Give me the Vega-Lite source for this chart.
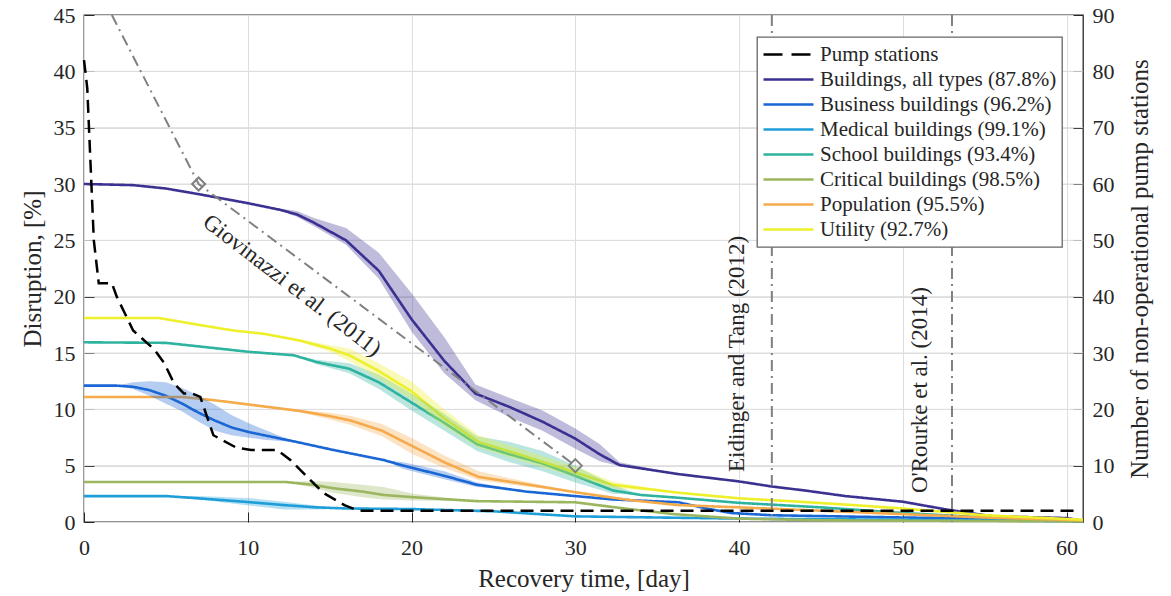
{
  "$schema": "https://vega.github.io/schema/vega-lite/v6.json",
  "width": 999,
  "height": 507,
  "autosize": "none",
  "padding": {"left": 84, "top": 15, "right": 88, "bottom": 74},
  "background": "white",
  "config": {
    "view": {"stroke": "#262626", "strokeWidth": 1.3},
    "font": "Liberation Serif",
    "axis": {
      "labelFont": "Liberation Serif", "titleFont": "Liberation Serif",
      "labelFontSize": 22, "titleFontSize": 25, "titleFontWeight": "normal",
      "labelColor": "#262626", "titleColor": "#262626",
      "tickColor": "#262626", "tickWidth": 1, "tickSize": -10,
      "domain": false, "gridColor": "#dedede", "gridWidth": 1, "labelFlush": false
    },
    "legend": {
      "symbolType": "stroke", "symbolSize": 2500, "symbolStrokeWidth": 2.5,
      "clipHeight": 25, "labelFont": "Liberation Serif", "labelFontSize": 21,
      "labelColor": "#262626", "labelOffset": 5, "padding": 5,
      "strokeColor": "#666666", "strokeWidth": 1.3, "fillColor": "white",
      "rowPadding": 0, "labelLimit": 400
    }
  },
  "datasets": {
    "hgrid": [{"g": 5}, {"g": 10}, {"g": 15}, {"g": 20}, {"g": 25}, {"g": 30}, {"g": 35}, {"g": 40}],
    "curves": [
      {"s": "Buildings, all types (87.8%)", "d": 0, "v": 30, "lo": 30, "hi": 30},
      {"s": "Buildings, all types (87.8%)", "d": 3, "v": 29.9, "lo": 29.9, "hi": 29.9},
      {"s": "Buildings, all types (87.8%)", "d": 5, "v": 29.6, "lo": 29.6, "hi": 29.6},
      {"s": "Buildings, all types (87.8%)", "d": 7, "v": 29.1, "lo": 29.1, "hi": 29.1},
      {"s": "Buildings, all types (87.8%)", "d": 10, "v": 28.3, "lo": 28.3, "hi": 28.3},
      {"s": "Buildings, all types (87.8%)", "d": 12, "v": 27.7, "lo": 27.6, "hi": 27.8},
      {"s": "Buildings, all types (87.8%)", "d": 13, "v": 27.3, "lo": 27.1, "hi": 27.6},
      {"s": "Buildings, all types (87.8%)", "d": 14, "v": 26.6, "lo": 26.3, "hi": 27.0},
      {"s": "Buildings, all types (87.8%)", "d": 16, "v": 25.0, "lo": 24.6, "hi": 26.1},
      {"s": "Buildings, all types (87.8%)", "d": 18, "v": 22.3, "lo": 21.6, "hi": 23.9},
      {"s": "Buildings, all types (87.8%)", "d": 20, "v": 18.0, "lo": 16.9, "hi": 20.3},
      {"s": "Buildings, all types (87.8%)", "d": 22, "v": 14.3, "lo": 13.2, "hi": 16.4},
      {"s": "Buildings, all types (87.8%)", "d": 23.9, "v": 11.4, "lo": 10.8, "hi": 12.2},
      {"s": "Buildings, all types (87.8%)", "d": 26, "v": 10.2, "lo": 9.3, "hi": 11.0},
      {"s": "Buildings, all types (87.8%)", "d": 28, "v": 8.9, "lo": 8.1, "hi": 9.9},
      {"s": "Buildings, all types (87.8%)", "d": 30, "v": 7.4, "lo": 6.5, "hi": 8.3},
      {"s": "Buildings, all types (87.8%)", "d": 31.5, "v": 6.0, "lo": 5.4, "hi": 6.9},
      {"s": "Buildings, all types (87.8%)", "d": 32.7, "v": 5.05, "lo": 4.95, "hi": 5.3},
      {"s": "Buildings, all types (87.8%)", "d": 36.3, "v": 4.25, "lo": 4.25, "hi": 4.25},
      {"s": "Buildings, all types (87.8%)", "d": 40, "v": 3.6, "lo": 3.6, "hi": 3.6},
      {"s": "Buildings, all types (87.8%)", "d": 42, "v": 3.15, "lo": 3.15, "hi": 3.15},
      {"s": "Buildings, all types (87.8%)", "d": 44, "v": 2.8, "lo": 2.8, "hi": 2.8},
      {"s": "Buildings, all types (87.8%)", "d": 46.5, "v": 2.3, "lo": 2.3, "hi": 2.3},
      {"s": "Buildings, all types (87.8%)", "d": 50, "v": 1.8, "lo": 1.8, "hi": 1.8},
      {"s": "Buildings, all types (87.8%)", "d": 52.7, "v": 1.1, "lo": 1.1, "hi": 1.1},
      {"s": "Buildings, all types (87.8%)", "d": 55.5, "v": 0.5, "lo": 0.5, "hi": 0.5},
      {"s": "Buildings, all types (87.8%)", "d": 60, "v": 0.35, "lo": 0.35, "hi": 0.35},
      {"s": "Buildings, all types (87.8%)", "d": 61, "v": 0.1, "lo": 0.1, "hi": 0.1},

      {"s": "Business buildings (96.2%)", "d": 0, "v": 12.1, "lo": 12.1, "hi": 12.1},
      {"s": "Business buildings (96.2%)", "d": 2, "v": 12.1, "lo": 12.1, "hi": 12.1},
      {"s": "Business buildings (96.2%)", "d": 3, "v": 12.0, "lo": 11.8, "hi": 12.4},
      {"s": "Business buildings (96.2%)", "d": 4, "v": 11.7, "lo": 11.2, "hi": 12.5},
      {"s": "Business buildings (96.2%)", "d": 5, "v": 11.2, "lo": 10.5, "hi": 12.4},
      {"s": "Business buildings (96.2%)", "d": 6, "v": 10.5, "lo": 9.8, "hi": 11.9},
      {"s": "Business buildings (96.2%)", "d": 7, "v": 9.7, "lo": 8.9, "hi": 11.2},
      {"s": "Business buildings (96.2%)", "d": 8, "v": 9.0, "lo": 8.1, "hi": 10.4},
      {"s": "Business buildings (96.2%)", "d": 9, "v": 8.4, "lo": 7.7, "hi": 9.5},
      {"s": "Business buildings (96.2%)", "d": 10, "v": 8.0, "lo": 7.5, "hi": 8.8},
      {"s": "Business buildings (96.2%)", "d": 11, "v": 7.7, "lo": 7.3, "hi": 8.2},
      {"s": "Business buildings (96.2%)", "d": 12, "v": 7.4, "lo": 7.2, "hi": 7.6},
      {"s": "Business buildings (96.2%)", "d": 13, "v": 7.1, "lo": 7.1, "hi": 7.1},
      {"s": "Business buildings (96.2%)", "d": 15.2, "v": 6.4, "lo": 6.4, "hi": 6.4},
      {"s": "Business buildings (96.2%)", "d": 18.3, "v": 5.5, "lo": 5.5, "hi": 5.5},
      {"s": "Business buildings (96.2%)", "d": 19.5, "v": 5.0, "lo": 4.7, "hi": 5.3},
      {"s": "Business buildings (96.2%)", "d": 22, "v": 4.1, "lo": 3.8, "hi": 4.5},
      {"s": "Business buildings (96.2%)", "d": 24, "v": 3.3, "lo": 3.1, "hi": 3.5},
      {"s": "Business buildings (96.2%)", "d": 27, "v": 2.7, "lo": 2.7, "hi": 2.7},
      {"s": "Business buildings (96.2%)", "d": 30, "v": 2.3, "lo": 2.3, "hi": 2.3},
      {"s": "Business buildings (96.2%)", "d": 32.3, "v": 2.0, "lo": 2.0, "hi": 2.0},
      {"s": "Business buildings (96.2%)", "d": 36.3, "v": 1.75, "lo": 1.75, "hi": 1.75},
      {"s": "Business buildings (96.2%)", "d": 38, "v": 1.2, "lo": 1.2, "hi": 1.2},
      {"s": "Business buildings (96.2%)", "d": 39.5, "v": 0.8, "lo": 0.8, "hi": 0.8},
      {"s": "Business buildings (96.2%)", "d": 42, "v": 0.6, "lo": 0.6, "hi": 0.6},
      {"s": "Business buildings (96.2%)", "d": 50, "v": 0.4, "lo": 0.4, "hi": 0.4},
      {"s": "Business buildings (96.2%)", "d": 55, "v": 0.3, "lo": 0.3, "hi": 0.3},
      {"s": "Business buildings (96.2%)", "d": 61, "v": 0.1, "lo": 0.1, "hi": 0.1},

      {"s": "Medical buildings (99.1%)", "d": 0, "v": 2.3, "lo": 2.3, "hi": 2.3},
      {"s": "Medical buildings (99.1%)", "d": 5, "v": 2.3, "lo": 2.3, "hi": 2.3},
      {"s": "Medical buildings (99.1%)", "d": 7, "v": 2.1, "lo": 2.0, "hi": 2.3},
      {"s": "Medical buildings (99.1%)", "d": 10.2, "v": 1.75, "lo": 1.45, "hi": 2.1},
      {"s": "Medical buildings (99.1%)", "d": 12.2, "v": 1.5, "lo": 1.1, "hi": 1.8},
      {"s": "Medical buildings (99.1%)", "d": 14.2, "v": 1.3, "lo": 1.1, "hi": 1.45},
      {"s": "Medical buildings (99.1%)", "d": 16, "v": 1.2, "lo": 1.2, "hi": 1.2},
      {"s": "Medical buildings (99.1%)", "d": 20, "v": 1.15, "lo": 1.15, "hi": 1.15},
      {"s": "Medical buildings (99.1%)", "d": 25, "v": 0.95, "lo": 0.95, "hi": 0.95},
      {"s": "Medical buildings (99.1%)", "d": 30, "v": 0.5, "lo": 0.5, "hi": 0.5},
      {"s": "Medical buildings (99.1%)", "d": 35, "v": 0.4, "lo": 0.4, "hi": 0.4},
      {"s": "Medical buildings (99.1%)", "d": 40, "v": 0.3, "lo": 0.3, "hi": 0.3},
      {"s": "Medical buildings (99.1%)", "d": 50, "v": 0.2, "lo": 0.2, "hi": 0.2},
      {"s": "Medical buildings (99.1%)", "d": 61, "v": 0.05, "lo": 0.05, "hi": 0.05},

      {"s": "School buildings (93.4%)", "d": 0, "v": 15.95, "lo": 15.95, "hi": 15.95},
      {"s": "School buildings (93.4%)", "d": 5, "v": 15.9, "lo": 15.9, "hi": 15.9},
      {"s": "School buildings (93.4%)", "d": 10.1, "v": 15.1, "lo": 15.1, "hi": 15.1},
      {"s": "School buildings (93.4%)", "d": 12.8, "v": 14.8, "lo": 14.8, "hi": 14.8},
      {"s": "School buildings (93.4%)", "d": 14.2, "v": 14.2, "lo": 14.0, "hi": 14.4},
      {"s": "School buildings (93.4%)", "d": 16.2, "v": 13.6, "lo": 13.2, "hi": 14.1},
      {"s": "School buildings (93.4%)", "d": 18, "v": 12.4, "lo": 11.8, "hi": 13.1},
      {"s": "School buildings (93.4%)", "d": 20, "v": 10.6, "lo": 9.9, "hi": 11.4},
      {"s": "School buildings (93.4%)", "d": 22, "v": 8.8, "lo": 8.1, "hi": 9.6},
      {"s": "School buildings (93.4%)", "d": 24, "v": 6.9, "lo": 6.3, "hi": 7.6},
      {"s": "School buildings (93.4%)", "d": 26, "v": 6.0, "lo": 5.3, "hi": 7.1},
      {"s": "School buildings (93.4%)", "d": 28, "v": 5.2, "lo": 4.5, "hi": 6.3},
      {"s": "School buildings (93.4%)", "d": 30, "v": 4.1, "lo": 3.5, "hi": 5.0},
      {"s": "School buildings (93.4%)", "d": 32.3, "v": 2.8, "lo": 2.5, "hi": 3.3},
      {"s": "School buildings (93.4%)", "d": 34, "v": 2.4, "lo": 2.4, "hi": 2.4},
      {"s": "School buildings (93.4%)", "d": 36.3, "v": 2.15, "lo": 2.15, "hi": 2.15},
      {"s": "School buildings (93.4%)", "d": 40, "v": 1.7, "lo": 1.7, "hi": 1.7},
      {"s": "School buildings (93.4%)", "d": 45, "v": 1.3, "lo": 1.3, "hi": 1.3},
      {"s": "School buildings (93.4%)", "d": 50, "v": 0.8, "lo": 0.8, "hi": 0.8},
      {"s": "School buildings (93.4%)", "d": 55, "v": 0.4, "lo": 0.4, "hi": 0.4},
      {"s": "School buildings (93.4%)", "d": 61, "v": 0.1, "lo": 0.1, "hi": 0.1},

      {"s": "Critical buildings (98.5%)", "d": 0, "v": 3.55, "lo": 3.55, "hi": 3.55},
      {"s": "Critical buildings (98.5%)", "d": 12.3, "v": 3.55, "lo": 3.55, "hi": 3.55},
      {"s": "Critical buildings (98.5%)", "d": 14, "v": 3.3, "lo": 3.05, "hi": 3.65},
      {"s": "Critical buildings (98.5%)", "d": 15.2, "v": 3.0, "lo": 2.6, "hi": 3.55},
      {"s": "Critical buildings (98.5%)", "d": 17, "v": 2.7, "lo": 2.2, "hi": 3.3},
      {"s": "Critical buildings (98.5%)", "d": 18.3, "v": 2.4, "lo": 2.0, "hi": 3.1},
      {"s": "Critical buildings (98.5%)", "d": 20.1, "v": 2.2, "lo": 1.9, "hi": 2.5},
      {"s": "Critical buildings (98.5%)", "d": 24, "v": 1.85, "lo": 1.85, "hi": 1.85},
      {"s": "Critical buildings (98.5%)", "d": 30, "v": 1.75, "lo": 1.75, "hi": 1.75},
      {"s": "Critical buildings (98.5%)", "d": 33, "v": 1.2, "lo": 1.2, "hi": 1.2},
      {"s": "Critical buildings (98.5%)", "d": 36, "v": 0.7, "lo": 0.7, "hi": 0.7},
      {"s": "Critical buildings (98.5%)", "d": 40, "v": 0.3, "lo": 0.3, "hi": 0.3},
      {"s": "Critical buildings (98.5%)", "d": 45, "v": 0.15, "lo": 0.15, "hi": 0.15},
      {"s": "Critical buildings (98.5%)", "d": 61, "v": 0.05, "lo": 0.05, "hi": 0.05},

      {"s": "Population (95.5%)", "d": 0, "v": 11.1, "lo": 11.1, "hi": 11.1},
      {"s": "Population (95.5%)", "d": 6, "v": 11.1, "lo": 11.1, "hi": 11.1},
      {"s": "Population (95.5%)", "d": 8, "v": 10.8, "lo": 10.8, "hi": 10.8},
      {"s": "Population (95.5%)", "d": 10.2, "v": 10.4, "lo": 10.4, "hi": 10.4},
      {"s": "Population (95.5%)", "d": 13.2, "v": 9.85, "lo": 9.75, "hi": 9.95},
      {"s": "Population (95.5%)", "d": 15, "v": 9.4, "lo": 9.1, "hi": 9.7},
      {"s": "Population (95.5%)", "d": 16.3, "v": 9.0, "lo": 8.6, "hi": 9.4},
      {"s": "Population (95.5%)", "d": 18.2, "v": 8.1, "lo": 7.6, "hi": 8.7},
      {"s": "Population (95.5%)", "d": 20.1, "v": 6.7, "lo": 6.0, "hi": 7.4},
      {"s": "Population (95.5%)", "d": 22, "v": 5.3, "lo": 4.8, "hi": 5.9},
      {"s": "Population (95.5%)", "d": 24.1, "v": 4.0, "lo": 3.7, "hi": 4.5},
      {"s": "Population (95.5%)", "d": 27.2, "v": 3.3, "lo": 3.1, "hi": 3.5},
      {"s": "Population (95.5%)", "d": 30.2, "v": 2.6, "lo": 2.6, "hi": 2.6},
      {"s": "Population (95.5%)", "d": 33.3, "v": 1.95, "lo": 1.95, "hi": 1.95},
      {"s": "Population (95.5%)", "d": 36.3, "v": 1.5, "lo": 1.5, "hi": 1.5},
      {"s": "Population (95.5%)", "d": 40, "v": 1.3, "lo": 1.3, "hi": 1.3},
      {"s": "Population (95.5%)", "d": 45, "v": 1.0, "lo": 1.0, "hi": 1.0},
      {"s": "Population (95.5%)", "d": 50, "v": 0.7, "lo": 0.7, "hi": 0.7},
      {"s": "Population (95.5%)", "d": 55, "v": 0.4, "lo": 0.4, "hi": 0.4},
      {"s": "Population (95.5%)", "d": 61, "v": 0.15, "lo": 0.15, "hi": 0.15},

      {"s": "Utility (92.7%)", "d": 0, "v": 18.1, "lo": 18.1, "hi": 18.1},
      {"s": "Utility (92.7%)", "d": 4.6, "v": 18.1, "lo": 18.1, "hi": 18.1},
      {"s": "Utility (92.7%)", "d": 7, "v": 17.5, "lo": 17.5, "hi": 17.5},
      {"s": "Utility (92.7%)", "d": 9.1, "v": 17.0, "lo": 17.0, "hi": 17.0},
      {"s": "Utility (92.7%)", "d": 11, "v": 16.7, "lo": 16.7, "hi": 16.7},
      {"s": "Utility (92.7%)", "d": 13.2, "v": 16.1, "lo": 16.0, "hi": 16.2},
      {"s": "Utility (92.7%)", "d": 15, "v": 15.4, "lo": 15.1, "hi": 15.7},
      {"s": "Utility (92.7%)", "d": 16.2, "v": 14.8, "lo": 14.3, "hi": 15.4},
      {"s": "Utility (92.7%)", "d": 18, "v": 13.4, "lo": 12.7, "hi": 14.1},
      {"s": "Utility (92.7%)", "d": 20, "v": 11.6, "lo": 10.9, "hi": 12.5},
      {"s": "Utility (92.7%)", "d": 22, "v": 9.2, "lo": 8.5, "hi": 10.0},
      {"s": "Utility (92.7%)", "d": 24.1, "v": 7.1, "lo": 6.6, "hi": 7.7},
      {"s": "Utility (92.7%)", "d": 27, "v": 5.8, "lo": 5.3, "hi": 6.3},
      {"s": "Utility (92.7%)", "d": 30, "v": 4.4, "lo": 4.0, "hi": 4.9},
      {"s": "Utility (92.7%)", "d": 32.3, "v": 3.3, "lo": 3.0, "hi": 3.6},
      {"s": "Utility (92.7%)", "d": 36.3, "v": 2.6, "lo": 2.6, "hi": 2.6},
      {"s": "Utility (92.7%)", "d": 40, "v": 2.1, "lo": 2.1, "hi": 2.1},
      {"s": "Utility (92.7%)", "d": 43.7, "v": 1.8, "lo": 1.8, "hi": 1.8},
      {"s": "Utility (92.7%)", "d": 47, "v": 1.5, "lo": 1.5, "hi": 1.5},
      {"s": "Utility (92.7%)", "d": 50, "v": 1.2, "lo": 1.2, "hi": 1.2},
      {"s": "Utility (92.7%)", "d": 55, "v": 0.6, "lo": 0.6, "hi": 0.6},
      {"s": "Utility (92.7%)", "d": 61, "v": 0.2, "lo": 0.2, "hi": 0.2}
    ],
    "pump": [
      {"d": 0, "p": 82}, {"d": 0.2, "p": 77}, {"d": 0.6, "p": 50}, {"d": 0.9, "p": 42.4},
      {"d": 1.7, "p": 42.4}, {"d": 2.0, "p": 40}, {"d": 3.0, "p": 34}, {"d": 4.3, "p": 30.6},
      {"d": 4.9, "p": 28.2}, {"d": 5.5, "p": 24.6}, {"d": 6.1, "p": 22.8}, {"d": 6.6, "p": 22.8},
      {"d": 7.1, "p": 22.2}, {"d": 7.9, "p": 15.4}, {"d": 9.3, "p": 13.2}, {"d": 10.2, "p": 12.8},
      {"d": 11.8, "p": 12.8}, {"d": 12.6, "p": 11}, {"d": 14.6, "p": 5.2}, {"d": 15.9, "p": 3},
      {"d": 16.6, "p": 2.2}, {"d": 17, "p": 2}, {"d": 60.5, "p": 2}
    ],
    "giov": [{"d": 1.7, "v": 45}, {"d": 7, "v": 30}, {"d": 30, "v": 5}],
    "giovpts": [{"d": 7, "v": 30}, {"d": 30, "v": 5}],
    "vl": [{"d": 42}, {"d": 53}],
    "n1": [{"d": 12.7, "v": 21.0, "t": "Giovinazzi et al. (2011)"}],
    "n2": [
      {"d": 40.3, "v": 4.44, "t": "Eidinger and Tang (2012)"},
      {"d": 51.5, "v": 2.57, "t": "O'Rourke et al. (2014)"}
    ]
  },
  "layer": [
    {
      "layer": [
        {
          "data": {"name": "hgrid"},
          "mark": {"type": "rule", "color": "#dedede", "strokeWidth": 1},
          "encoding": {
            "y": {"field": "g", "type": "quantitative", "title": "Disruption, [%]", "scale": {"domain": [0, 45], "nice": false}}
          }
        },
        {
          "data": {"name": "curves"},
          "mark": {"type": "line", "strokeWidth": 2.6},
          "encoding": {
            "x": {"field": "d", "type": "quantitative",
              "scale": {"domain": [0, 61], "nice": false, "zero": false},
              "axis": {"orient": "bottom", "values": [0, 10, 20, 30, 40, 50, 60], "title": "Recovery time, [day]",
                "grid": true, "tickSize": -10, "labelPadding": 25.5, "titlePadding": 8, "labelFlush": false}},
            "y": {"field": "v", "type": "quantitative",
              "scale": {"domain": [0, 45], "nice": false},
              "axis": {"orient": "left", "values": [0, 5, 10, 15, 20, 25, 30, 35, 40, 45], "title": "Disruption, [%]",
                "grid": true, "tickSize": -10, "labelPadding": 19, "titlePadding": 8}},
            "color": {"field": "s", "type": "nominal",
              "scale": {
                "domain": ["Pump stations", "Buildings, all types (87.8%)", "Business buildings (96.2%)", "Medical buildings (99.1%)", "School buildings (93.4%)", "Critical buildings (98.5%)", "Population (95.5%)", "Utility (92.7%)"],
                "range": ["#000000", "#3a3191", "#1a66d4", "#1f9fd8", "#2eb39f", "#9bb65e", "#f5aa4c", "#edf02a"]},
              "legend": {"title": null, "orient": "none", "legendX": 673, "legendY": 22}},
            "strokeDash": {"field": "s", "type": "nominal",
              "scale": {
                "domain": ["Pump stations", "Buildings, all types (87.8%)", "Business buildings (96.2%)", "Medical buildings (99.1%)", "School buildings (93.4%)", "Critical buildings (98.5%)", "Population (95.5%)", "Utility (92.7%)"],
                "range": [[19, 9], [1, 0], [1, 0], [1, 0], [1, 0], [1, 0], [1, 0], [1, 0]]},
              "legend": {"title": null, "orient": "none", "legendX": 673, "legendY": 22}}
          }
        },
        {
          "data": {"name": "curves"},
          "mark": {"type": "area", "opacity": 0.33},
          "encoding": {
            "x": {"field": "d", "type": "quantitative", "scale": {"domain": [0, 61], "nice": false, "zero": false}},
            "y": {"field": "lo", "type": "quantitative", "scale": {"domain": [0, 45], "nice": false}},
            "y2": {"field": "hi"},
            "fill": {"field": "s", "type": "nominal",
              "scale": {
                "domain": ["Pump stations", "Buildings, all types (87.8%)", "Business buildings (96.2%)", "Medical buildings (99.1%)", "School buildings (93.4%)", "Critical buildings (98.5%)", "Population (95.5%)", "Utility (92.7%)"],
                "range": ["#000000", "#3a3191", "#1a66d4", "#1f9fd8", "#2eb39f", "#9bb65e", "#f5aa4c", "#edf02a"]},
              "legend": null}
          }
        },
        {
          "data": {"name": "giov"},
          "mark": {"type": "line", "color": "#808080", "strokeWidth": 2, "strokeDash": [11, 5, 2, 5]},
          "encoding": {
            "x": {"field": "d", "type": "quantitative", "scale": {"domain": [0, 61], "nice": false, "zero": false}},
            "y": {"field": "v", "type": "quantitative", "scale": {"domain": [0, 45], "nice": false}}
          }
        },
        {
          "data": {"name": "giovpts"},
          "mark": {"type": "point", "shape": "diamond", "filled": false, "color": "#808080", "strokeWidth": 2, "size": 170, "opacity": 1},
          "encoding": {
            "x": {"field": "d", "type": "quantitative", "scale": {"domain": [0, 61], "nice": false, "zero": false}},
            "y": {"field": "v", "type": "quantitative", "scale": {"domain": [0, 45], "nice": false}}
          }
        },
        {
          "data": {"name": "vl"},
          "mark": {"type": "rule", "color": "#808080", "strokeWidth": 2, "strokeDash": [11, 5, 2, 5]},
          "encoding": {
            "x": {"field": "d", "type": "quantitative", "scale": {"domain": [0, 61], "nice": false, "zero": false}}
          }
        },
        {
          "data": {"name": "n1"},
          "mark": {"type": "text", "angle": 37.5, "align": "center", "baseline": "middle", "font": "Liberation Serif", "fontSize": 23, "color": "#262626"},
          "encoding": {
            "x": {"field": "d", "type": "quantitative", "scale": {"domain": [0, 61], "nice": false, "zero": false}},
            "y": {"field": "v", "type": "quantitative", "scale": {"domain": [0, 45], "nice": false}},
            "text": {"field": "t"}
          }
        },
        {
          "data": {"name": "n2"},
          "mark": {"type": "text", "angle": 270, "align": "left", "baseline": "alphabetic", "font": "Liberation Serif", "fontSize": 23, "color": "#262626"},
          "encoding": {
            "x": {"field": "d", "type": "quantitative", "scale": {"domain": [0, 61], "nice": false, "zero": false}},
            "y": {"field": "v", "type": "quantitative", "scale": {"domain": [0, 45], "nice": false}},
            "text": {"field": "t"}
          }
        }
      ]
    },
    {
      "data": {"name": "pump"},
      "mark": {"type": "line", "color": "#000000", "strokeWidth": 2.5, "strokeDash": [13, 7]},
      "encoding": {
        "x": {"field": "d", "type": "quantitative", "scale": {"domain": [0, 61], "nice": false, "zero": false}},
        "y": {"field": "p", "type": "quantitative", "scale": {"domain": [0, 90], "nice": false},
          "axis": {"orient": "right", "values": [0, 10, 20, 30, 40, 50, 60, 70, 80, 90], "title": "Number of non-operational pump stations",
            "grid": false, "tickSize": -10, "labelPadding": 19, "titlePadding": 13, "titleAngle": 270, "titleBaseline": "top"}}
      }
    }
  ],
  "resolve": {"scale": {"y": "independent"}}
}
